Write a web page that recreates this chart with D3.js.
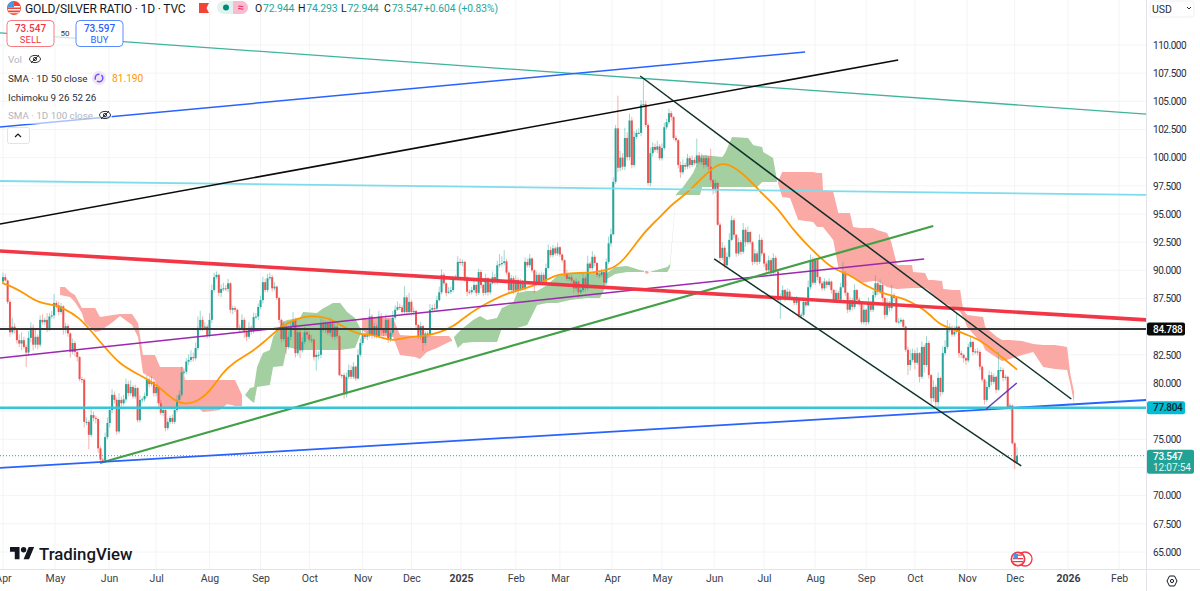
<!DOCTYPE html>
<html>
<head>
<meta charset="utf-8">
<title>GOLD/SILVER RATIO</title>
<script src="https://cdn.jsdelivr.net/npm/d3@7"></script>
<style>
	html, body { margin: 0; padding: 0; background: #fff; }
	svg { display: block; }
	text { font-family: Roboto, "Open Sans", sans-serif; }
</style>
</head>
<body>
<div id="chart"></div>
<script>
// daily closes, one per bar
var closes = [
	89.4,89.1,87.2,84.5,85,84.7,83.8,83.5,83.8,83.2,
	82.7,84,84.9,83.4,84.1,83.4,85.6,85.4,85.6,84.8,
	85.9,86,87.1,86.9,86.3,86.8,84.7,85.05,84.4,82.75,
	83.55,82.75,82.3,80.35,80.3,76.55,76.55,75.4,77.15,76.9,
	76.8,74.2,73.2,73.1,75.2,76.45,77.6,78.95,78.5,75.7,
	78.5,78.2,78.55,79.9,79.1,79.65,78.8,79.55,76.7,78.5,
	78.55,78.85,80.3,79.9,80.1,79.1,79.65,78.2,77.35,77.6,
	76,76.55,76.9,76.55,77.6,78.5,78.95,80.95,81,81.9,
	82.05,82.3,82.2,83.1,84.9,85.6,84.9,85,84.25,85.6,
	88.25,89.4,89.6,88,88.35,88.4,88.35,88.85,86.5,86.65,
	86.5,84.9,84.8,85.6,84.6,84.1,84.9,84.6,85.85,85.9,
	86.75,87.35,88.95,88.25,89.3,89.4,88.4,88.55,87.55,85.6,
	83.9,84.9,83.2,84.1,85,85.6,82.65,84.5,82.9,83.65,
	84.5,84.3,83.85,83.85,82.3,82.5,82.5,85.3,84.7,85.3,
	84.45,85.3,84.1,85,84.15,80.7,80.7,79,80.55,81.15,
	80.55,81.45,80.4,82.5,83.55,84.25,84.1,84.25,85.9,84.25,
	85.05,84.15,85.9,84.7,84.45,85.6,83.85,84.45,85.8,86.5,
	86.75,86.7,86.3,87.6,86.3,87.2,86.3,86.4,85.15,84.15,
	85.05,83.55,84.4,84.3,86.5,86.65,86.6,87.35,88.05,89.6,
	88.85,88,88.1,88.25,89.2,89.3,90.75,90.65,90.75,89.3,
	88.1,88.05,88.25,88.7,88,89.85,88.7,88,89.3,88.05,
	88.85,89.4,88.95,90.45,90.55,90.65,90.8,89.8,88.25,89.3,
	88.2,89.15,88.25,88.95,88.4,90.75,90.45,91.05,90,88.85,
	89.6,88.95,89.6,89,90.2,91.8,91.35,91.95,91.5,92.05,
	91.4,90.9,89.75,89.25,89.4,89.1,88.4,89,88.05,88.25,
	89.3,88.4,90.6,90.2,91.2,90.65,89.6,89.6,89.85,88.9,
	90.75,92.4,93.2,97.85,102.6,99.1,100,99.2,101.75,100.05,
	103.3,99.35,101.85,102.2,102.2,104.7,104.75,102.9,97.75,100.4,
	100.95,100.7,101,99.95,100.85,102.7,103.15,103.95,103.6,101.75,
	101.55,99.35,98.7,99.35,99.2,99.95,99.35,99.8,99.5,100.2,
	99.6,99.95,99.35,99.95,99.2,98,97.15,97.75,94.05,91.1,
	92,90.45,91.2,92.7,94.45,93.15,91.5,92.5,91.65,93.6,
	92.5,93.4,92.5,90.75,91.5,90.75,92.7,91.5,90.6,90,
	90.9,89.75,91.1,89.9,87.35,87.65,88.25,87.55,88.1,87.55,
	87.55,87.1,87.4,86,86.05,87.2,86.9,88.5,90.9,88.9,
	90.9,89.4,88.85,88.4,89,88.7,89,88.25,87.35,88,
	87.4,88.5,89.75,88,86.5,87.35,86.75,88.25,87.4,87.1,
	85.4,86.5,85.4,87.1,86.5,87.8,88.85,88.1,88.7,87.55,
	86.05,87.1,86.65,87.8,87.55,85.4,85.45,85.6,85,82.95,
	81.6,82.05,82.65,81.8,82.65,80.55,83.2,81.6,83.55,80.7,
	78.65,79.65,78.3,80.45,79.2,82.65,83.2,84.7,84.9,84.3,
	84.55,85,82.65,82.5,82.2,82,83.2,83.65,82.75,82.8,
	82.75,81.45,80.3,78.5,79.65,80.7,80.1,80.55,79.4,81.15,
	81.15,80.45,80.55,77.85,78,74.65,72.944,73.547
];
var firstOpen = 89;

// how far each wick reaches past the body
var wickUp = [
	.4,.3,.1,.2,.8,.3,.2,.5,.7,.3,
	.2,.6,.5,.3,.6,.2,.4,.5,.2,.6,
	.3,.4,.8,.2,.3,.3,.1,.3,.2,.1,
	.4,.2,.1,.1,.2,.1,.4,.2,.6,.3,
	.2,.1,.2,.2,.4,.5,.3,.5,.3,.2,
	.6,.3,.4,.5,.3,.6,.2,.3,.1,.4,
	.2,.3,.4,.2,.5,.2,.2,.1,.3,.2,
	.1,.3,.2,.3,.3,.4,.4,.5,.3,.3,
	.5,.6,.4,.5,1,.8,.3,.4,.2,.6,
	.5,.4,.3,.1,.4,.5,.3,.4,.1,.2,
	.2,.1,.3,.5,.2,.1,.5,.2,.4,.3,
	.3,.4,.5,.3,.4,.4,.2,.4,.1,.1,
	.1,.6,.2,.5,.5,.7,.2,.5,.2,.4,
	.5,.2,.3,.4,.1,.4,.3,.4,.3,.2,
	.2,.5,.2,.4,.2,.1,.1,.2,.4,.5,
	.4,.4,.1,.5,.4,.6,.2,.3,.7,.2,
	.3,.2,.5,.3,.2,.5,.1,.2,.6,.4,
	.5,.3,.2,1,.2,.8,.2,.3,.1,.1,
	.4,.1,.2,.2,.5,.3,.4,.4,.5,.5,
	.2,.1,.4,.3,.3,.3,.5,.3,.2,.1,
	.2,.2,.3,.5,.1,.3,.2,.1,.4,.1,
	.2,.5,.3,.4,.9,.6,1,.2,.1,.3,
	.2,.4,.2,.3,.2,.4,.3,.4,.1,.1,
	.3,.2,.3,.2,.4,.5,.3,.3,.2,.4,
	.1,.1,.1,.3,.2,.2,.1,.3,.1,.3,
	.4,.2,.7,.2,.5,.2,.1,.4,.3,.2,
	.3,.6,.5,.4,.3,2.9,.6,.4,.9,.5,
	.6,.3,.5,.3,.4,.4,2.25,.3,.2,.5,
	.4,.3,.5,.2,.4,.4,.3,.4,.2,.1,
	.2,.1,.3,.5,.2,.4,.2,.4,.2,1.5,
	.3,.4,.2,.3,.2,1.6,.1,.3,.1,.2,
	.5,.2,.4,.6,.4,.2,.1,.4,.2,.6,
	.2,.5,.1,.1,.4,.2,.5,.2,.1,.2,
	.4,.2,.4,.2,.1,.3,.4,.1,.3,.2,
	.2,.1,.3,.1,.2,.4,.2,.6,.5,.3,
	.2,.2,.1,.2,.3,.1,.3,.1,.1,.3,
	.2,.4,1,.2,.1,.3,.2,.5,.1,.2,
	.1,.4,.1,.5,.2,.4,.7,.2,.5,.2,
	.1,.4,.2,.9,.2,.1,.3,.2,.1,.1,
	.3,.9,.4,.3,.5,.1,.5,.2,.6,.2,
	.1,.6,.2,.5,.1,.6,.6,.9,.4,.2,
	.5,1.2,.1,.2,.1,.1,.3,.5,.1,.2,
	.3,.2,.1,.1,.5,.4,.3,.3,.1,1.6,
	.3,.2,.2,.1,.2,.1,.1,.75
];
var wickDown = [
	.2,.1,.2,.4,.2,.3,.3,.3,.6,.2,
	1.3,.3,.4,.5,.3,.4,.2,.2,.3,.3,
	.2,.2,.3,.3,.3,.2,.4,.3,.3,.5,
	.2,.4,.4,.2,.3,.5,.3,1.3,.2,.3,
	.4,.4,.2,.1,.2,.2,.4,.3,.3,.3,
	.2,.3,.2,.3,.3,.2,.2,.2,.2,.2,
	.3,.2,.2,.3,.2,.3,.3,.3,.2,.3,
	.3,.2,.2,.2,.2,.2,.3,.2,.2,.2,
	.3,.2,.3,.2,.2,.3,.3,.2,.3,.2,
	.3,.2,.2,.3,.4,.2,.2,.3,.3,.4,
	.2,.2,.3,.2,.6,.4,.2,.3,.2,.2,
	.3,.2,.3,.2,.2,.2,.3,.2,.2,.3,
	.3,.2,.6,.2,.3,.2,.4,.2,.7,.2,
	.2,.4,.2,.3,.3,1.2,.4,.3,.2,.3,
	.2,.3,.2,.3,.2,.1,.3,.4,.3,.2,
	.2,.2,.2,.1,.2,.2,.2,.3,.2,.3,
	.3,.2,.2,.4,.3,.2,.3,.2,.2,.2,
	.1,.2,.2,.2,.3,.2,.3,.3,.3,.2,
	.3,.7,.2,.3,.2,.1,.2,.2,.1,.2,
	.2,.3,.1,.2,.2,.1,.2,.2,.3,.3,
	.4,.2,.2,.2,.3,.2,.3,.3,.2,.3,
	.2,.1,.2,.2,.2,.2,.2,.2,.3,.2,
	.3,.2,.3,.1,.2,.2,.2,.2,.2,.85,
	.2,.3,.2,.3,.2,.1,.2,.2,.2,.2,
	.2,.2,.3,.2,.2,.2,.4,.2,.5,.2,
	.2,.3,.2,.2,.2,.3,.2,.3,.2,.5,
	.2,.2,.3,.1,.2,.4,.3,.3,.3,.3,
	.3,.3,.2,.2,.1,.3,.2,.2,.2,.3,
	.3,.2,.3,.2,.2,.2,.2,.2,.3,.2,
	.2,.3,.5,.2,.3,.2,.3,.2,.2,.3,
	.2,.2,.3,.2,.3,.2,.4,.3,.1,.3,
	.2,.3,.2,.2,.1,.3,.3,.2,.3,.2,
	.4,.2,.2,.3,.2,.3,.2,.2,.3,.3,
	.2,.3,.2,.2,.2,1.65,.2,.3,.2,.2,
	.2,.2,.2,.3,.3,.2,.2,.1,.2,.2,
	.2,.3,.2,.2,.2,.3,.2,.3,.2,.2,
	.3,.2,.1,.3,.3,.2,.3,.2,.3,.3,
	.2,.2,.3,.2,.2,.2,.2,.3,.2,.3,
	.4,.2,.3,.2,.3,.1,.2,.2,.2,.2,
	.9,.5,.2,.6,.2,.5,.2,.7,.2,.3,
	.5,.3,.4,.4,.4,.2,.2,.2,.2,.2,
	.2,.2,.4,.3,.4,.4,.2,.1,.3,.2,
	.3,.3,.2,.4,.2,.2,.3,.2,.3,.1,
	.2,.3,.2,.2,.3,.1,.6,0
];

// SMA 50, sampled along the curve
var smaBars = [-0.4,4.3,10.3,14.7,21.6,25.9,33.2,37.5,43.1,50.4,59,66.4,73.3,77.6,82.8,89.2,94.4,99.1,106.5,112.1,119.4,126.7,133.2,137.9,142.2,147.4,153.9,158.2,163.8,168.1,174.1,182.8,188.4,194,200,208.6,217.2,225.9,232.8,238.8,247.4,253,261.6,267.2,275.9,281.9,288.8,294,300.4,307.8,313.4,320.7,326.3,333.6,340.5,347.8,357.8,363.8,372.4,381,387.9,395.3,399.6,403.9,408.2,415.5,421.1,425.4,431,437];
var smaValues = [88.88,88.52,87.81,87.19,86.93,86.66,85.77,84.7,83.38,81.6,80.71,79.83,78.49,78.14,78.23,79.2,80.89,81.78,82.67,83.55,84.97,85.77,85.95,85.86,85.6,84.88,84.26,84.35,84,83.73,84.09,84.18,84.53,84.97,86.04,87.1,87.99,88.43,88.97,89.68,89.77,89.77,90.03,90.74,93.32,94.47,95.98,96.69,98.02,99.53,99.44,98.28,96.95,95.62,93.58,91.98,90.03,89.77,88.52,87.81,87.55,86.75,86.04,85.15,84.88,84.26,83.82,83.11,82.22,81.19];

// Ichimoku cloud, green where spanA is above spanB, red otherwise
var cloudBars = [
	24.6,26.7,28.9,31,34,35.3,39.7,41.8,47.4,50.4,55.6,58.2,60.3,65.5,67.7,77.6,78.4,83.6,86.2,93.5,96.6,100,103,
	104.3,106.5,108.2,109.5,112,115,116.4,120.7,122.4,128,129.3,135.3,137.5,142.2,145.3,148.3,151.7,154.3,
	154.7,157.3,168.1,171.1,177.6,179.7,182.7,187,192.2,193.5,
	194.4,196,198.3,202.6,205.6,208.6,212.9,215,219.8,221.5,225.9,230.2,234.5,238.8,244.4,251.7,257.3,259,260.3,263.8,269,274.5,276.3,
	276.7,277.6,278.4,
	279,286.3,287.5,290,290.5,293.1,297.4,300.4,301.3,310,311.2,314.2,321.1,323.3,325,327.2,327.6,331.9,333.6,
	334,335.8,339.2,342.7,349.1,350.9,353,353.4,357.8,360,362,365,366.4,369.4,375,376.7,381,382.8,385.3,391.8,392.2,397.4,398.7,400.9,404.7,405.2,409.5,412.5,413.8,415.5,422.4,423.3,428.4,430.6,434,439.2,444,448.3,453.4,458.6,459.9,461.6
];
var cloudSpanA = [
	87.81,87.72,87.64,87.19,86.22,85.33,84.53,84.62,85.42,85.95,85.15,84.09,80.89,80.27,77.87,77.87,77.87,77.87,77.43,77.61,78.14,77.96,77.96,
	78.94,79.56,79.65,81.42,82.67,82.93,84.09,85.42,85.6,85.77,86.3,86.22,86.57,87.1,87.1,86.3,85.77,84.7,
	84.7,84.26,84.09,82.49,82.31,82.13,82.75,83.11,83.65,83.73,
	84.09,84.44,84.88,85.6,85.95,85.6,85.77,86.66,87.1,87.99,88.17,88.17,88.7,89.5,89.77,89.85,89.77,89.77,89.77,90.3,90.39,90.03,89.94,
	89.77,89.67,89.82,
	89.87,90.3,90.57,96.7,96.87,97.4,98.64,100.06,100.24,100.06,100.42,101.84,101.75,101.13,101.04,100.95,100.5,99.97,97.93,
	97.75,96.51,96.42,94.47,94.3,93.85,93.85,93.85,92.7,90.3,89.85,89.5,89.32,88.87,89.05,89.05,88.52,88.44,88.35,88.44,88.44,88.44,88.26,87.81,87.1,87.1,86.75,86.31,85.86,84.97,83.38,82.93,82.22,81.96,82.13,82.49,82.75,81.42,81.24,81.15,80,78.2
];
var cloudSpanB = [
	88.52,88.52,88.08,87.81,86.66,86.66,86.66,85.86,86.04,86.13,86.13,85.33,82.49,82.49,81.42,81.42,80.27,80.27,80.27,80.27,80.27,80.27,78.94,
	78.93,78.49,78.23,79.65,79.74,79.83,81.42,81.51,83.2,82.93,82.93,82.93,82.93,82.93,82.93,83.02,83.11,84.44,
	85.77,85.77,85.77,84.26,84.18,84.18,84.18,84.18,84.18,83.82,
	84,83.11,83.55,83.65,83.65,83.65,83.65,84.88,84.88,84.88,85.15,86.93,87.1,87.1,87.37,87.55,87.55,88.26,89.23,89.68,89.85,89.85,89.85,
	89.95,89.94,89.85,
	89.85,89.85,90.3,96.6,96.69,96.69,96.69,96.69,97.4,97.4,97.4,97.4,97.4,97.4,97.4,97.84,97.84,97.84,97.84,
	97.84,98.73,98.73,98.73,98.73,98.64,98.64,97.13,96.95,95.09,95.09,95.09,93.85,93.76,93.76,93.58,93.32,92.52,90.48,90.48,89.85,89.77,89.15,89.15,89.05,88.34,88.26,88.26,86.49,86.04,85.86,84.97,84.09,83.82,83.82,83.73,83.47,83.38,83.38,83.2,80.89,79.2
];

// drawn trendlines: from bar, from price, to bar, to price
var teal = [-1.3,111.07,492.7,103.87];
var blueUpper = [-1.3,102.72,345.7,109.38];
var blackUpper = [-1.3,94.11,385.8,108.67];
var lightBlue = [-1.3,97.93,492.7,96.69];
var redThick = [-1.3,91.72,492.7,85.6];
var greenUp = [41.8,72.9,400.9,93.94];
var purpleLong = [-1.3,82.22,397,91.01];
var blueLower = [-1.3,72.46,492.7,78.49];
var channelTop = [274.6,107.25,460.4,78.58];
var channelBottom = [306.5,91.01,438.8,72.64];
var purpleShort = [423.7,77.69,436.9,80];

var blackLevel = 84.788;
var cyanLevel = 77.804;
var lastPrice = 73.547;

var priceTicks = [110,107.5,105,102.5,100,97.5,95,92.5,90,87.5,85,82.5,80,77.5,75,72.5,70,67.5,65];
var hiddenPriceTicks = [85,77.5,72.5];
var monthLabels = ["Apr","May","Jun","Jul","Aug","Sep","Oct","Nov","Dec","2025","Feb","Mar","Apr","May","Jun","Jul","Aug","Sep","Oct","Nov","Dec","2026","Feb"];
var monthBars = [0,22.4,45.7,66,89,111,132,155,176,197.4,221,240,262.5,284,306.5,328,350,372,393,415.5,436,459,481];

var width = 1200, height = 591;
var paneRight = 1146.5, paneBottom = 569.5;

var x = d3.scaleLinear().domain([0,437]).range([3,1017]);
var y = d3.scaleLinear().domain([110,65]).range([45,552]);

var svg = d3.select("#chart").append("svg")
	.attr("width", width)
	.attr("height", height);

svg.append("clipPath").attr("id", "pane").append("rect")
	.attr("width", paneRight)
	.attr("height", paneBottom);

// grid
svg.append("g").selectAll("line")
	.data(priceTicks)
	.enter().append("line")
	.attr("x1", 0).attr("x2", paneRight)
	.attr("y1", function(d) { return y(d); })
	.attr("y2", function(d) { return y(d); })
	.attr("stroke", "#f3f4f6");

svg.append("g").selectAll("line")
	.data(monthBars)
	.enter().append("line")
	.attr("x1", function(d) { return x(d); })
	.attr("x2", function(d) { return x(d); })
	.attr("y1", 0).attr("y2", paneBottom)
	.attr("stroke", "#f3f4f6");

var pane = svg.append("g").attr("clip-path", "url(#pane)");

// cloud, one area for each stretch with the same sign
var cloudArea = d3.area()
	.x(function(i) { return x(cloudBars[i]); })
	.y0(function(i) { return y(cloudSpanA[i]); })
	.y1(function(i) { return y(cloudSpanB[i]); });

var stretches = [];
cloudBars.forEach(function(b, i) {
	var up = cloudSpanA[i] >= cloudSpanB[i];
	var last = stretches[stretches.length - 1];
	if (last && last.up == up) last.idx.push(i);
	else stretches.push({up: up, idx: [i]});
});

pane.append("g").selectAll("path")
	.data(stretches)
	.enter().append("path")
	.attr("d", function(s) { return cloudArea(s.idx); })
	.attr("fill", function(s) { return s.up ? "#a3cfa1" : "#fba9a4"; });

// candles
var candles = closes.map(function(c, i) {
	var o = i == 0 ? firstOpen : closes[i - 1];
	return {
		bar: i,
		open: o,
		close: c,
		high: Math.max(o, c) + wickUp[i],
		low: Math.min(o, c) - wickDown[i]
	};
});

function candleColor(d) {
	return d.close >= d.open ? "#26a69a" : "#ef5350";
}

var candle = pane.append("g").selectAll("g")
	.data(candles)
	.enter().append("g");

candle.append("line")
	.attr("x1", function(d) { return x(d.bar); })
	.attr("x2", function(d) { return x(d.bar); })
	.attr("y1", function(d) { return y(d.high); })
	.attr("y2", function(d) { return y(d.low); })
	.attr("stroke", candleColor)
	.attr("stroke-opacity", 0.45);

candle.append("rect")
	.attr("x", function(d) { return x(d.bar) - 1; })
	.attr("width", 2)
	.attr("y", function(d) { return y(Math.max(d.open, d.close)); })
	.attr("height", function(d) { return Math.max(1, Math.abs(y(d.open) - y(d.close))); })
	.attr("fill", candleColor);

// SMA 50
pane.append("path")
	.attr("d", d3.line()
		.x(function(d, i) { return x(smaBars[i]); })
		.y(function(d) { return y(d); })
		.curve(d3.curveBasis)(smaValues))
	.attr("fill", "none")
	.attr("stroke", "#ff9800")
	.attr("stroke-width", 1.8);

// trendlines
function trend(line, color, w) {
	pane.append("line")
		.attr("x1", x(line[0])).attr("y1", y(line[1]))
		.attr("x2", x(line[2])).attr("y2", y(line[3]))
		.attr("stroke", color)
		.attr("stroke-width", w);
}

function level(value, color, w, dash) {
	pane.append("line")
		.attr("x1", 0).attr("x2", paneRight)
		.attr("y1", y(value)).attr("y2", y(value))
		.attr("stroke", color)
		.attr("stroke-width", w)
		.attr("stroke-dasharray", dash || null);
}

level(lastPrice, "#26a69a", 1, "1 2");
trend(lightBlue, "#7fdcec", 1.8);
trend(teal, "#3fb39b", 1.3);
trend(purpleLong, "#9c27b0", 1.5);
trend(greenUp, "#43a047", 2.2);
trend(blueUpper, "#2962ff", 1.5);
trend(blueLower, "#2962ff", 1.8);
level(cyanLevel, "#35c5d9", 2.6);
level(blackLevel, "#363636", 2);
trend(blackUpper, "#0b0b0b", 1.6);
trend(redThick, "#f23645", 3.6);
trend(channelTop, "#10302a", 1.5);
trend(channelBottom, "#10302a", 1.5);
trend(purpleShort, "#673ab7", 1.5);

// price axis
var priceAxis = d3.axisRight(y)
	.tickValues(priceTicks.filter(function(d) { return hiddenPriceTicks.indexOf(d) < 0; }))
	.tickFormat(d3.format(".3f"))
	.tickSize(0)
	.tickPadding(0);

var priceG = svg.append("g")
	.attr("transform", "translate(1153,0)")
	.call(priceAxis);
priceG.select(".domain").remove();
priceG.selectAll("text")
	.attr("fill", "#2a2e39")
	.attr("font-size", 10)
	.attr("font-family", "Roboto")
	.attr("letter-spacing", -0.45);

// time axis
var timeAxis = d3.axisBottom(x)
	.tickValues(monthBars)
	.tickFormat(function(d, i) { return monthLabels[i]; })
	.tickSize(0)
	.tickPadding(5);

var timeG = svg.append("g")
	.attr("transform", "translate(0," + paneBottom + ")")
	.call(timeAxis);
timeG.select(".domain").remove();
timeG.selectAll("text")
	.attr("fill", "#3a3e49")
	.attr("font-size", 10.5)
	.attr("font-family", "Roboto")
	.attr("font-weight", function(d, i) { return monthLabels[i].length == 4 ? 700 : 400; });

svg.append("line").attr("x1", paneRight).attr("x2", paneRight).attr("y1", 0).attr("y2", height).attr("stroke", "#e0e3eb");
svg.append("line").attr("x1", 0).attr("x2", width).attr("y1", paneBottom).attr("y2", paneBottom).attr("stroke", "#e0e3eb");

// price tags
function tag(value, fill, color, label) {
	svg.append("rect")
		.attr("x", 1147).attr("y", y(value) - 6.5)
		.attr("width", 38).attr("height", 13).attr("rx", 2)
		.attr("fill", fill);
	svg.append("text")
		.attr("x", 1153).attr("y", y(value) + 3.6)
		.attr("font-size", 10).attr("font-weight", 500)
		.attr("letter-spacing", -0.3)
		.attr("fill", color)
		.text(label);
}
tag(blackLevel, "#0a0a0a", "#fff", "84.788");
tag(cyanLevel, "#00bcd4", "#10222a", "77.804");

svg.append("rect")
	.attr("x", 1147).attr("y", y(lastPrice) - 6)
	.attr("width", 47).attr("height", 24).attr("rx", 2)
	.attr("fill", "#22a295");
svg.append("text")
	.attr("x", 1153).attr("y", y(lastPrice) + 4)
	.attr("font-size", 10).attr("font-weight", 500).attr("letter-spacing", -0.3)
	.attr("fill", "#fff").text("73.547");
svg.append("text")
	.attr("x", 1153).attr("y", y(lastPrice) + 15.5)
	.attr("font-size", 10).attr("letter-spacing", -0.1)
	.attr("fill", "#e6f5f3").text("12:07:54");

// USD button
svg.append("rect")
	.attr("x", 1150).attr("y", 1).attr("width", 44).attr("height", 16).attr("rx", 3)
	.attr("fill", "#fff").attr("stroke", "#f0f1f4");
svg.append("text").attr("x", 1152).attr("y", 13)
	.attr("font-size", 10.5).attr("fill", "#2a2e39").text("USD");
svg.append("path").attr("d", "M1187 7l2 2l2 -2")
	.attr("fill", "none").attr("stroke", "#2a2e39");

// settings icon
svg.append("path")
	.attr("d", "M1167 581l2.5 -5h5l2.5 5l-2.5 5h-5z")
	.attr("fill", "none").attr("stroke", "#131722");
svg.append("circle").attr("cx", 1172).attr("cy", 581).attr("r", 1.6)
	.attr("fill", "none").attr("stroke", "#131722");

// header
svg.append("circle").attr("cx", 14).attr("cy", 8).attr("r", 7).attr("fill", "#f44336");
svg.append("path").attr("d", "M8 6h12v1.5H8zM8 9h12v1.5H8zM9 12.3h10v1H9z").attr("fill", "#fff");
svg.append("path").attr("d", "M7.2 7.5a7 7 0 0 1 6.8 -6.5v6.5z").attr("fill", "#3f9be8");

svg.append("text").attr("x", 25).attr("y", 12.5)
	.attr("font-size", 12).attr("letter-spacing", -0.15).attr("fill", "#131722")
	.text("GOLD/SILVER RATIO · 1D · TVC");
svg.append("path").attr("d", "M199 3h10l-2.5 5l2.5 5h-10z").attr("fill", "#f44336");

svg.append("rect").attr("x", 217).attr("y", 1).attr("width", 31).attr("height", 13).attr("rx", 6.5).attr("fill", "#dff3ef");
svg.append("path").attr("d", "M233 1h8.5a6.5 6.5 0 0 1 0 13h-8.5z").attr("fill", "#f8bbd0");
svg.append("circle").attr("cx", 226).attr("cy", 7.5).attr("r", 3).attr("fill", "#00897b");
svg.append("text").attr("x", 240.5).attr("y", 11).attr("text-anchor", "middle")
	.attr("font-size", 11).attr("fill", "#e91e63").text("≈");

var ohlcLabels = ["O", "H", "L", "C"];
var ohlcValues = ["72.944", "74.293", "72.944", "73.547"];
var ohlcX = [255, 298, 341, 384];
ohlcLabels.forEach(function(l, i) {
	var t = svg.append("text").attr("x", ohlcX[i]).attr("y", 12).attr("font-size", 10.5).attr("letter-spacing", -0.2);
	t.append("tspan").attr("fill", "#131722").text(l);
	t.append("tspan").attr("fill", "#26a69a").attr("dx", 1).text(ohlcValues[i]);
});
svg.append("text").attr("x", 424).attr("y", 12).attr("font-size", 10.2)
	.attr("fill", "#26a69a").text("+0.604 (+0.83%)");

// sell and buy
function orderBox(bx, color, textColor, price, label) {
	svg.append("rect")
		.attr("x", bx).attr("y", 20.5).attr("width", 47).attr("height", 26).attr("rx", 4)
		.attr("fill", "#fff").attr("stroke", color);
	svg.append("text").attr("x", bx + 23.5).attr("y", 32).attr("text-anchor", "middle")
		.attr("font-size", 10).attr("font-weight", 500).attr("fill", textColor).text(price);
	svg.append("text").attr("x", bx + 23.5).attr("y", 43).attr("text-anchor", "middle")
		.attr("font-size", 9.5).attr("fill", textColor).text(label);
}
svg.append("rect").attr("x", 54).attr("y", 27).attr("width", 22).attr("height", 12).attr("fill", "#fff").attr("fill-opacity", 0.7);
orderBox(7, "#f77c80", "#f23645", "73.547", "SELL");
orderBox(76, "#5b8cff", "#2962ff", "73.597", "BUY");
svg.append("text").attr("x", 65).attr("y", 36).attr("text-anchor", "middle")
	.attr("font-size", 8).attr("fill", "#333").text("50");

// legend
svg.append("rect").attr("x", 0).attr("y", 108).attr("width", 112).attr("height", 16).attr("fill", "#fff").attr("fill-opacity", 0.6);

function eyeOff(cx, cy) {
	var g = svg.append("g").attr("transform", "translate(" + cx + "," + cy + ")")
		.attr("fill", "none").attr("stroke", "#333");
	g.append("ellipse").attr("rx", 5.5).attr("ry", 3.6);
	g.append("circle").attr("r", 1.6);
	g.append("line").attr("x1", -4).attr("y1", 4).attr("x2", 4).attr("y2", -4);
}

svg.append("text").attr("x", 8).attr("y", 63).attr("font-size", 9.8).attr("fill", "#b2b5be").text("Vol");
eyeOff(35, 59);
svg.append("text").attr("x", 8).attr("y", 82).attr("font-size", 9.8).attr("fill", "#2a2e39").text("SMA · 1D 50 close");
svg.append("circle").attr("cx", 99).attr("cy", 78).attr("r", 7).attr("fill", "#ede7f6");
svg.append("circle").attr("cx", 99).attr("cy", 78).attr("r", 3.8)
	.attr("fill", "none").attr("stroke", "#7c4dff").attr("stroke-width", 1.5).attr("stroke-dasharray", "8 2");
svg.append("text").attr("x", 112).attr("y", 82).attr("font-size", 10.2).attr("fill", "#ff9800").text("81.190");
svg.append("text").attr("x", 8).attr("y", 101).attr("font-size", 9.8).attr("fill", "#2a2e39").text("Ichimoku 9 26 52 26");
svg.append("text").attr("x", 8).attr("y", 119).attr("font-size", 9.8).attr("fill", "#b2b5be").text("SMA · 1D 100 close");
eyeOff(105, 115);

svg.append("rect").attr("x", 7.5).attr("y", 127.5).attr("width", 22).attr("height", 16).attr("rx", 2)
	.attr("fill", "#fff").attr("stroke", "#e0e3eb");
svg.append("path").attr("d", "M15 137l3 -3l3 3").attr("fill", "none").attr("stroke", "#131722").attr("stroke-width", 1.2);

// TradingView logo
svg.append("path")
	.attr("transform", "translate(10,544.3) scale(0.68)")
	.attr("d", "M14 22H7V11H0V4h14v18zM28 22h-8l7.5-18h8L28 22z")
	.attr("fill", "#131722");
svg.append("circle").attr("cx", 23.6).attr("cy", 549.8).attr("r", 2.7).attr("fill", "#131722");
svg.append("text").attr("x", 39).attr("y", 559.5)
	.attr("font-family", "Inter").attr("font-size", 16.8).attr("font-weight", 500)
	.attr("fill", "#131722").text("TradingView");

// earnings marker
svg.append("circle").attr("cx", 1025).attr("cy", 559).attr("r", 7).attr("fill", "#fff").attr("stroke", "#f23645").attr("stroke-width", 1.3);
svg.append("circle").attr("cx", 1018).attr("cy", 559).attr("r", 7.5).attr("fill", "#f23645");
svg.append("circle").attr("cx", 1018).attr("cy", 559).attr("r", 5.8).attr("fill", "#fff");
svg.append("path").attr("d", "M1014 554.5h8v1.3h-8zM1013 558h10v1.3h-10zM1013 561h10v1.3h-10z").attr("fill", "#f23645");
svg.append("rect").attr("x", 1013.5).attr("y", 554).attr("width", 4.5).attr("height", 4.5).attr("fill", "#3f9be8");
</script>
</body>
</html>
